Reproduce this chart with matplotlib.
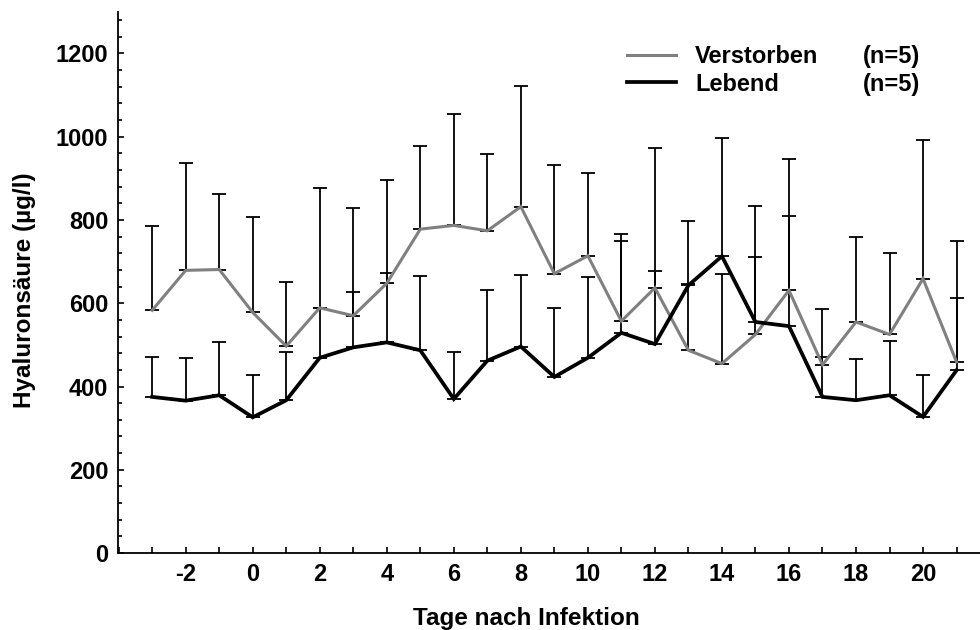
import numpy as np
import matplotlib
matplotlib.use('Agg')
import matplotlib.pyplot as plt
from matplotlib.ticker import MultipleLocator

plt.rcParams['font.family'] = ['Liberation Sans', 'DejaVu Sans']
plt.rcParams['font.weight'] = 'bold'
plt.rcParams['axes.unicode_minus'] = False

# Tage relativ zur Infektion
tage = np.arange(-3, 22)

# Mittelwerte und obere Fehlergrenzen (µg/l)
verstorben = [583, 679, 681, 578, 497, 589, 570, 648, 778, 787, 774, 832, 671,
              714, 557, 637, 487, 455, 525, 631, 452, 555, 525, 659, 459]
verstorben_oben = [785, 938, 862, 806, 650, 878, 828, 897, 977, 1054, 959, 1122, 932,
                   914, 766, 972, 647, 671, 712, 946, 470, 758, 721, 993, 749]
lebend = [375, 366, 379, 326, 367, 469, 494, 506, 487, 370, 462, 496, 423,
          469, 529, 502, 643, 713, 555, 545, 375, 367, 379, 327, 439]
lebend_oben = [470, 468, 508, 428, 482, 589, 627, 672, 665, 482, 633, 667, 589,
               662, 750, 677, 798, 998, 834, 810, 586, 467, 509, 427, 612]

gruppen = [('Verstorben', verstorben, verstorben_oben, '#808080', 2.2),
           ('Lebend', lebend, lebend_oben, 'black', 2.7)]

fig = plt.figure(figsize=(9.8, 6.3), dpi=100)
ax = fig.add_axes([0.1204, 0.1222, 0.8796, 0.859])

for name, mw, oben, farbe, lw in gruppen:
    mw = np.array(mw)
    sd = np.array(oben) - mw
    ax.errorbar(tage, mw, yerr=[np.zeros_like(sd), sd], fmt='none',
                ecolor='black', elinewidth=1.3, capsize=5.2, capthick=1.3, zorder=2)
for name, mw, oben, farbe, lw in gruppen:
    ax.plot(tage, mw, color=farbe, lw=lw, label=name, zorder=3,
            solid_joinstyle='miter')

ax.set_xlim(-4.02, 21.7)
ax.set_ylim(0, 1300)
ax.set_xticks(np.arange(-2, 21, 2))
ax.xaxis.set_minor_locator(MultipleLocator(1))
ax.yaxis.set_major_locator(MultipleLocator(200))
ax.yaxis.set_minor_locator(MultipleLocator(40))
ax.tick_params(which='both', direction='in', width=1.2, labelsize=17)
ax.tick_params(which='major', length=4, pad=7)
ax.tick_params(which='minor', length=3)
ax.tick_params(axis='x', which='minor', length=4)
for s in ['top', 'right']:
    ax.spines[s].set_visible(False)
for s in ['left', 'bottom']:
    ax.spines[s].set_linewidth(1.3)

ax.set_xlabel('Tage nach Infektion', fontsize=17.5, fontweight='bold')
ax.xaxis.set_label_coords(0.474, -0.099)
ax.set_ylabel('Hyaluronsäure (µg/l)', fontsize=17.5, fontweight='bold')
ax.yaxis.set_label_coords(-0.095, 0.486)

leg = ax.legend(loc='upper left', bbox_to_anchor=(0.5905, 0.939), frameon=False,
                fontsize=17, handlelength=2.08, handletextpad=0.8,
                labelspacing=0.2, borderpad=0, borderaxespad=0)
for txt, y in [('(n=5)', 57), ('(n=5)', 84)]:
    fig.text(863 / 980, 1 - y / 630, txt, fontsize=17, fontweight='bold',
             va='center', ha='left')

fig.savefig('out.png', dpi=100)
